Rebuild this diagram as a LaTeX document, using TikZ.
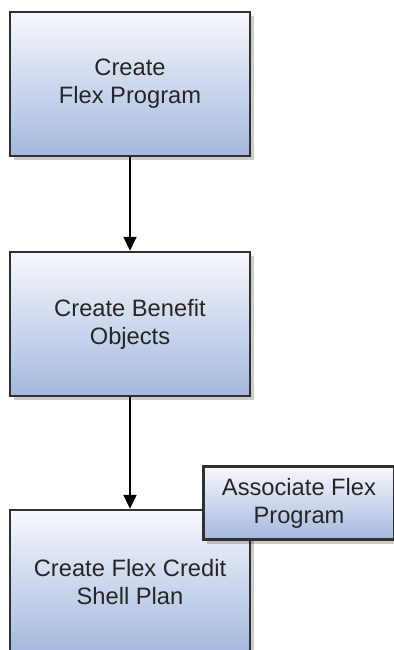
\documentclass[tikz,border=0pt]{standalone}
\usepackage{fontspec}
\setmainfont{Liberation Sans}
\usepackage{tikz}
\usetikzlibrary{arrows.meta,shadows}

\definecolor{boxtop}{HTML}{F6F8FC}
\definecolor{boxbottom}{HTML}{A4B8DE}
\definecolor{boxline}{HTML}{303030}

\begin{document}
\begin{tikzpicture}[->,>={Triangle[width=6.5pt,length=7pt]},auto,node distance=120pt,
                    line width=1pt]
  \tikzstyle{task}=[draw=boxline,line width=1.25pt,top color=boxtop,bottom color=boxbottom,
    minimum width=120pt,minimum height=72pt,inner sep=0pt,align=center,text=black!85,
    font=\fontsize{11.85}{14}\selectfont,
    drop shadow={shadow xshift=2pt,shadow yshift=-2pt,opacity=0.2,fill=black}]
  \useasboundingbox (0,0) rectangle (196.5pt,-325pt);
\node [task] (0) at (65pt,-42pt) {Create\\Flex Program};
\node [task] [below of=0] (1) {Create Benefit\\Objects};
\node [task] [below of=1,node distance=129pt] (2) {Create Flex Credit\\Shell Plan};
\node [task,minimum width=95.5pt,minimum height=36.5pt,anchor=south west]
  (3) at ([xshift=-24.5pt,yshift=-16pt]2.north east) {Associate Flex\\Program};

\path (0) edge (1)
      (1) edge (2);
\end{tikzpicture}
\end{document}
